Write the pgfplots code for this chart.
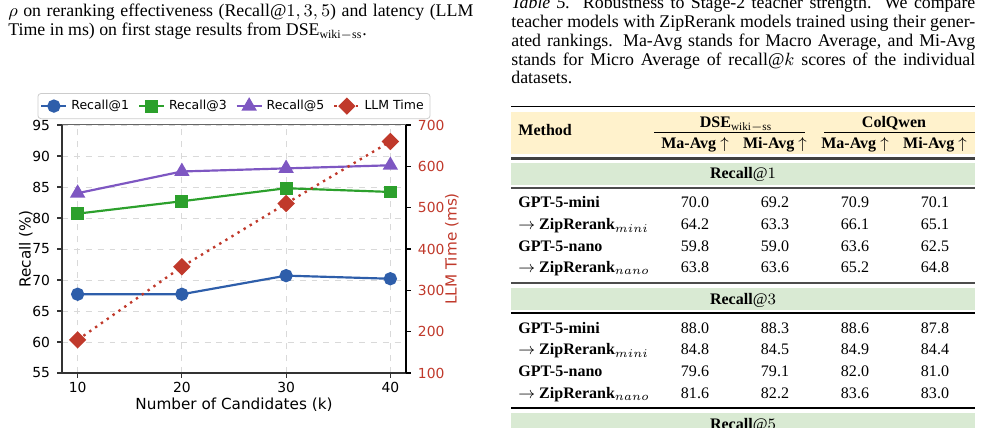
\documentclass[border=0pt]{standalone}
\usepackage{fontspec}
\setmainfont{Liberation Serif}
\newfontfamily\dejavu{DejaVu Sans}
\usepackage{pgfplots}
\pgfplotsset{compat=1.18}
\definecolor{blueC}{RGB}{46,94,170}
\definecolor{greenC}{RGB}{44,160,44}
\definecolor{purpleC}{RGB}{126,87,194}
\definecolor{redC}{RGB}{192,57,43}
\definecolor{beigeC}{HTML}{FFF2CC}
\definecolor{greenBand}{HTML}{D9EAD3}
\newcommand\trow[6]{%
  \node[anchor=base west] at (518,#1) {#2};
  \node[anchor=base] at (695,#1) {#3};
  \node[anchor=base] at (775,#1) {#4};
  \node[anchor=base] at (855,#1) {#5};
  \node[anchor=base] at (935,#1) {#6};}
\begin{document}
\begin{tikzpicture}[x=0.505pt,y=0.505pt]
\path[use as bounding box, clip] (0,0) rectangle (987,428);
% ---------- left caption text
\begin{scope}[every node/.style={anchor=base west, inner sep=0pt, font=\fontsize{9}{10}\selectfont}]
\node at (8,411) {\makebox[234.8pt][s]{$\rho$ on reranking effectiveness (Recall@$1,3,5$) and latency (LLM}};
\node at (8,392) {Time in ms) on first stage results from DSE$_{\rm wiki-ss}$.};
% ---------- right caption text
\node at (511,419) {\makebox[234.3pt][s]{\textit{Table 5.}\ \ Robustness to Stage-2 teacher strength.\ \ We compare}};
\node at (511,400.2) {\makebox[234.3pt][s]{teacher models with ZipRerank models trained using their gener-}};
\node at (511,381.5) {\makebox[234.3pt][s]{ated rankings. Ma-Avg stands for Macro Average, and Mi-Avg}};
\node at (511,362.5) {\makebox[234.3pt][s]{stands for Micro Average of recall@$k$ scores of the individual}};
\node at (511,344) {datasets.};
\end{scope}
% ---------- table
\fill[beigeC] (511,316) rectangle (975,274);
\fill[greenBand] (511,265.3) rectangle (975,243);
\fill[greenBand] (511,139.7) rectangle (975,118);
\fill[greenBand] (511,14.7) rectangle (975,-5);
\draw[line width=0.8pt] (511,321.3) -- (975,321.3);
\draw[line width=0.45pt] (654,295.7) -- (805,295.7);
\draw[line width=0.45pt] (824,295.7) -- (975,295.7);
\draw[line width=1.4pt, black!75] (511,269.2) -- (975,269.2);
\draw[line width=1pt, black!70] (511,240) -- (975,240);
\draw[line width=0.8pt, black!70] (511,144.7) -- (975,144.7);
\draw[line width=0.8pt] (511,114.7) -- (975,114.7);
\draw[line width=0.8pt] (511,19.7) -- (975,19.7);
\begin{scope}[every node/.style={inner sep=0pt, font=\fontsize{8.1}{9}\selectfont}]
\node[anchor=base west] at (518,292) {\textbf{Method}};
\node[anchor=base] at (736,300) {\textbf{DSE}$_{\rm wiki-ss}$};
\node[anchor=base] at (894,300) {\textbf{ColQwen}};
\node[anchor=base] at (695,279) {\textbf{Ma-Avg} $\uparrow$};
\node[anchor=base] at (775,279) {\textbf{Mi-Avg} $\uparrow$};
\node[anchor=base] at (855,279) {\textbf{Ma-Avg} $\uparrow$};
\node[anchor=base] at (935,279) {\textbf{Mi-Avg} $\uparrow$};
\node[anchor=base] at (743,249.7) {\textbf{Recall}@$1$};
\trow{220.7}{\textbf{GPT-5-mini}}{70.0}{69.2}{70.9}{70.1}
\trow{198}{$\rightarrow$ \textbf{ZipRerank}$_{mini}$}{64.2}{63.3}{66.1}{65.1}
\trow{176.3}{\textbf{GPT-5-nano}}{59.8}{59.0}{63.6}{62.5}
\trow{155.3}{$\rightarrow$ \textbf{ZipRerank}$_{nano}$}{63.8}{63.6}{65.2}{64.8}
\node[anchor=base] at (743,123) {\textbf{Recall}@$3$};
\trow{94}{\textbf{GPT-5-mini}}{88.0}{88.3}{88.6}{87.8}
\trow{73}{$\rightarrow$ \textbf{ZipRerank}$_{mini}$}{84.8}{84.5}{84.9}{84.4}
\trow{51.3}{\textbf{GPT-5-nano}}{79.6}{79.1}{82.0}{81.0}
\trow{29.7}{$\rightarrow$ \textbf{ZipRerank}$_{nano}$}{81.6}{82.2}{83.6}{83.0}
\node[anchor=base] at (743,-2) {\textbf{Recall}@$5$};
\end{scope}
% ---------- chart
\pgfplotsset{chartbase/.style={
  at={(31.31pt,27.78pt)}, anchor=south west, scale only axis,
  width=173.72pt, height=125.24pt,
  xmin=8.5, xmax=41.5,
  tick align=outside, major tick length=2.5pt,
  /pgf/number format/assume math mode=true,
  ticklabel style={font=\dejavu\fontsize{7}{8}\selectfont},
}}
\begin{axis}[chartbase,
  ymin=55, ymax=95, ytick={55,60,...,95}, xtick={10,20,30,40},
  xticklabel style={yshift=1.5pt},
  axis x line*=bottom, axis y line*=left,
  axis line style={black!80, line width=1pt},
  tick style={black!80, line width=0.6pt},
  grid=major, grid style={dashed, black!15, line width=0.4pt},
  xlabel={Number of Candidates (k)}, ylabel={Recall (\%)},
  every axis x label/.style={at={(axis description cs:0.5,0)}, anchor=center, yshift=-16.2pt, font=\dejavu\fontsize{7.7}{9}\selectfont},
  every axis y label/.style={at={(axis description cs:0,0.5)}, xshift=-18.2pt, rotate=90, anchor=center, font=\dejavu\fontsize{7.7}{9}\selectfont},
  legend columns=4, legend cell align=left,
  legend image code/.code={\draw[mark repeat=2,mark phase=2,#1] plot coordinates {(0pt,0pt)(6.3pt,0pt)(12.6pt,0pt)};},
  legend style={at={(0.5,1)}, anchor=south, yshift=3pt, draw=black!20, rounded corners=1.5pt,
    font=\dejavu\fontsize{6.3}{7}\selectfont, inner sep=1.2pt,
    /tikz/every even column/.append style={column sep=2.5pt}},
]
\addplot[blueC, line width=1.1pt, mark=*, mark size=2.8pt] coordinates {(10,67.7)(20,67.7)(30,70.7)(40,70.2)};
\addlegendentry{Recall@1}
\addplot[greenC, line width=1.1pt, mark=square*, mark size=2.7pt] coordinates {(10,80.7)(20,82.7)(30,84.8)(40,84.2)};
\addlegendentry{Recall@3}
\addplot[purpleC, line width=1.1pt, mark=triangle*, mark size=3.4pt] coordinates {(10,84.0)(20,87.5)(30,88.0)(40,88.5)};
\addlegendentry{Recall@5}
\addlegendimage{redC, line width=1.2pt, dash pattern=on 1.2pt off 2.4pt, mark=square*, mark size=2.5pt, mark options={rotate=45, solid}}
\addlegendentry{LLM Time}
\draw[black!60, line width=0.5pt] (rel axis cs:0,1) -- (rel axis cs:1,1);
\end{axis}
\begin{axis}[chartbase,
  ymin=100, ymax=700, ytick={100,200,...,700},
  axis x line=none, axis y line*=right,
  axis line style={black, line width=0.6pt},
  tick style={black, line width=0.6pt},
  yticklabel style={text=redC},
  ylabel={LLM Time (ms)},
  every axis y label/.style={at={(axis description cs:1,0.5)}, xshift=23.2pt, rotate=90, anchor=center, text=redC, font=\dejavu\fontsize{7.7}{9}\selectfont},
]
\addplot[redC, line width=1.2pt, dash pattern=on 1.2pt off 2.4pt, mark=square*, mark size=2.5pt, mark options={rotate=45, solid}] coordinates {(10,180)(20,357)(30,510)(40,660)};
\end{axis}
\end{tikzpicture}
\end{document}
